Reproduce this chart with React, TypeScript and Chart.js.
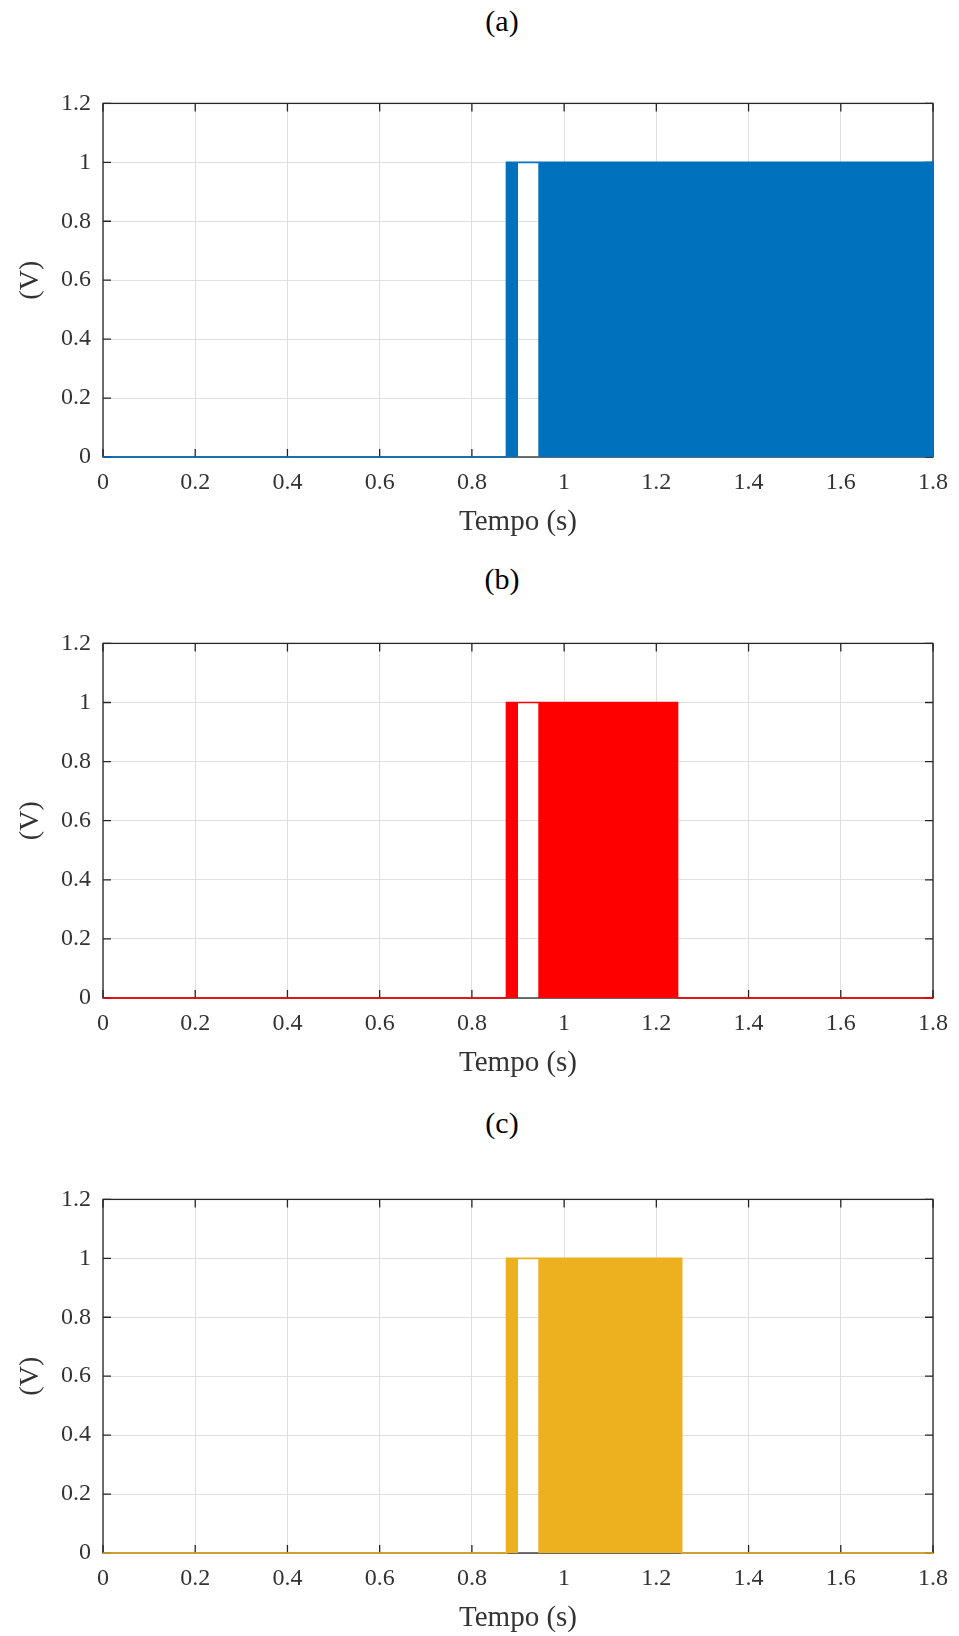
import React, { useEffect, useRef } from 'react';
import { Chart, registerables } from 'chart.js';

Chart.register(...registerables);

// ---------- data ----------
const xTickValues = [0, 0.2, 0.4, 0.6, 0.8, 1, 1.2, 1.4, 1.6, 1.8];
const xTickLabels = ['0', '0.2', '0.4', '0.6', '0.8', '1', '1.2', '1.4', '1.6', '1.8'];
const yTickValues = [0, 0.2, 0.4, 0.6, 0.8, 1, 1.2];
const yTickLabels = ['0', '0.2', '0.4', '0.6', '0.8', '1', '1.2'];

const panelTitles = ['(a)', '(b)', '(c)'];
const xAxisTitle = 'Tempo (s)';
const yAxisTitle = '(V)';

// (a) signal trace (upper envelope / steady levels)
const timeA = [0, 0.875, 0.875, 1.8, 1.8];
const levelA = [0, 0, 1, 1, 0];
// (a) switching (PWM) regions, filled between 0 and 1
const switchTimeA = [0.875, 0.875, 0.9, 0.9, 0.944, 0.944, 1.8, 1.8];
const switchLevelA = [0, 1, 1, 0, 0, 1, 1, 0];

// (b)
const timeB = [0, 0.875, 0.875, 1.246, 1.246, 1.8];
const levelB = [0, 0, 1, 1, 0, 0];
const switchTimeB = [0.875, 0.875, 0.9, 0.9, 0.944, 0.944, 1.246, 1.246];
const switchLevelB = [0, 1, 1, 0, 0, 1, 1, 0];

// (c)
const timeC = [0, 0.875, 0.875, 1.255, 1.255, 1.8];
const levelC = [0, 0, 1, 1, 0, 0];
const switchTimeC = [0.875, 0.875, 0.9, 0.9, 0.944, 0.944, 1.255, 1.255];
const switchLevelC = [0, 1, 1, 0, 0, 1, 1, 0];

// ---------- styling / layout ----------
const colors = ['#0072BD', '#FF0000', '#EDB120'];
const FONT = '"Liberation Serif", "Times New Roman", serif';
const TEXT_COLOR = '#333333';
const PAGE_W = 959;
const PAGE_H = 1636;
const PLOT_LEFT = 103;
const PLOT_RIGHT = 938;
const TOP_PAD = 20;
const X_SCALE_H = 83;

const panelGeom = [
  { top: 97, bottom: 457, titleY: 21 },
  { top: 637, bottom: 998, titleY: 579 },
  { top: 1193, bottom: 1553, titleY: 1123 },
];

const traces = [
  { t: timeA, v: levelA, st: switchTimeA, sv: switchLevelA },
  { t: timeB, v: levelB, st: switchTimeB, sv: switchLevelB },
  { t: timeC, v: levelC, st: switchTimeC, sv: switchLevelC },
];

const zip = (xs: number[], ys: number[]) => xs.map((x, i) => ({ x, y: ys[i] }));

const boxPlugin = {
  id: 'matlabBox',
  beforeDatasetsDraw(chart: any) {
    const { ctx, chartArea, scales } = chart;
    const { left, right, top, bottom } = chartArea;
    const xs = scales.x;
    const ys = scales.y;
    ctx.save();
    ctx.strokeStyle = '#262626';
    ctx.lineWidth = 1.3;
    ctx.strokeRect(left, top, right - left, bottom - top);
    const TL = 8;
    ctx.beginPath();
    xs.ticks.forEach((t: any) => {
      const p = xs.getPixelForValue(t.value);
      ctx.moveTo(p, bottom);
      ctx.lineTo(p, bottom - TL);
      ctx.moveTo(p, top);
      ctx.lineTo(p, top + TL);
    });
    ys.ticks.forEach((t: any) => {
      const p = ys.getPixelForValue(t.value);
      ctx.moveTo(left, p);
      ctx.lineTo(left + TL, p);
      ctx.moveTo(right, p);
      ctx.lineTo(right - TL, p);
    });
    ctx.stroke();
    ctx.restore();
  },
};

function Panel({ idx }: { idx: number }) {
  const ref = useRef<HTMLCanvasElement | null>(null);
  const g = panelGeom[idx];
  const canvasTop = g.top - TOP_PAD;
  const canvasH = g.bottom - g.top + TOP_PAD + X_SCALE_H;

  useEffect(() => {
    if (!ref.current) return;
    const tr = traces[idx];
    const color = colors[idx];
    const chart = new Chart(ref.current, {
      type: 'line',
      data: {
        datasets: [
          {
            data: zip(tr.st, tr.sv),
            borderWidth: 0,
            borderColor: color,
            backgroundColor: color,
            fill: 'origin',
            pointRadius: 0,
            tension: 0,
            clip: 6,
          } as any,
          {
            data: zip(tr.t, tr.v),
            borderWidth: 1.6,
            borderColor: color,
            backgroundColor: color,
            fill: false,
            pointRadius: 0,
            tension: 0,
            clip: 6,
          } as any,
        ],
      },
      options: {
        animation: false,
        responsive: false,
        devicePixelRatio: 1,
        events: [],
        layout: { padding: { left: 0, right: PAGE_W - PLOT_RIGHT, top: TOP_PAD, bottom: 0 } },
        plugins: { legend: { display: false }, tooltip: { enabled: false }, title: { display: false } },
        scales: {
          x: {
            type: 'linear',
            min: 0,
            max: 1.8,
            afterBuildTicks: (s: any) => {
              s.ticks = xTickValues.map((v) => ({ value: v }));
            },
            afterFit: (s: any) => {
              s.height = X_SCALE_H;
            },
            ticks: {
              autoSkip: false,
              maxRotation: 0,
              minRotation: 0,
              padding: 11,
              color: TEXT_COLOR,
              font: { family: FONT, size: 24 },
              callback: (_v: any, i: number) => xTickLabels[i],
            },
            grid: { color: '#dfdfdf', lineWidth: 1, drawTicks: false },
            border: { display: false },
            title: {
              display: true,
              text: xAxisTitle,
              color: TEXT_COLOR,
              font: { family: FONT, size: 29 },
              padding: { top: 0, bottom: 0 },
            },
          },
          y: {
            type: 'linear',
            min: 0,
            max: 1.2,
            afterBuildTicks: (s: any) => {
              s.ticks = yTickValues.map((v) => ({ value: v }));
            },
            afterFit: (s: any) => {
              s.width = PLOT_LEFT;
            },
            ticks: {
              autoSkip: false,
              padding: 12,
              color: TEXT_COLOR,
              font: { family: FONT, size: 24 },
              callback: (_v: any, i: number) => yTickLabels[i],
            },
            grid: { color: '#dfdfdf', lineWidth: 1, drawTicks: false },
            border: { display: false },
            title: {
              display: true,
              text: yAxisTitle,
              color: TEXT_COLOR,
              font: { family: FONT, size: 28 },
              padding: { top: 14, bottom: 0 },
            },
          },
        },
      } as any,
      plugins: [boxPlugin],
    });
    return () => chart.destroy();
  }, [idx]);

  return (
    <>
      <div
        style={{
          position: 'absolute',
          left: 502 - 100,
          width: 200,
          top: g.titleY - 20,
          height: 40,
          lineHeight: '40px',
          textAlign: 'center',
          fontFamily: FONT,
          fontSize: 30,
          color: '#000',
        }}
      >
        {panelTitles[idx]}
      </div>
      <canvas
        ref={ref}
        width={PAGE_W}
        height={canvasH}
        style={{ position: 'absolute', left: 0, top: canvasTop, width: PAGE_W, height: canvasH }}
      />
    </>
  );
}

export default function App() {
  return (
    <div
      style={{
        position: 'absolute',
        left: 0,
        top: 0,
        width: PAGE_W,
        height: PAGE_H,
        background: '#fff',
        overflow: 'hidden',
      }}
    >
      <Panel idx={0} />
      <Panel idx={1} />
      <Panel idx={2} />
    </div>
  );
}
